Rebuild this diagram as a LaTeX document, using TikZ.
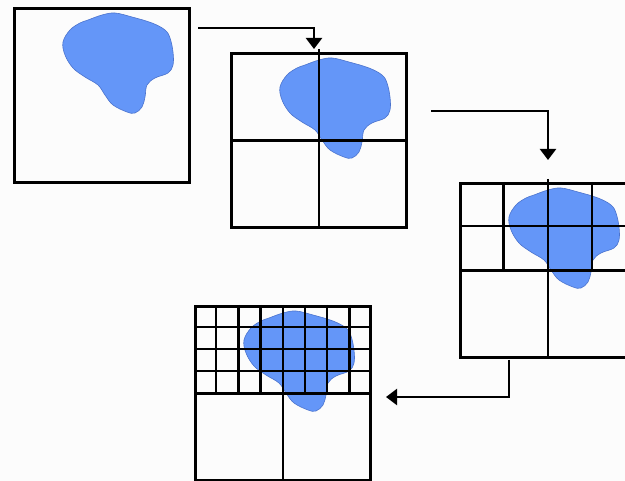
\documentclass[tikz,border=0pt]{standalone}
\usetikzlibrary{arrows.meta,calc}
\definecolor{blobc}{RGB}{100,150,248}
\definecolor{blobe}{RGB}{75,115,205}
\newcommand\drawblob[1]{\draw[blobstyle,shift={#1}] plot[smooth cycle,tension=0.6] coordinates{
(75,13) (89,8) (102,6) (119,10) (139,16) (152,23) (157,31) (160,45) (160,58) (155,66)
(142,71) (134,78) (132,90) (129,100) (122,106) (114,105) (100,98) (92,88) (85,78)
(72,70) (60,61) (52,48) (50,35) (57,23) (67,16)};}
\begin{document}
\begin{tikzpicture}[x=1pt,y=-1pt,
  box/.style={draw,line width=2.7pt,minimum width=175pt,minimum height=174pt,inner sep=0pt,anchor=north west},
  gridline/.style={line width=2.4pt},
  flow/.style={line width=2.2pt,-{Triangle[width=16pt,length=11pt]}},
  blobstyle/.style={fill=blobc,draw=blobe,line width=0.6pt}]
\useasboundingbox (0,0) rectangle (625,481);
\clip (0,0) rectangle (625,481);
\fill[white!99!black] (0,0) rectangle (625,481);
% blobs
\drawblob{(13,7)}
\drawblob{(230,52)}
\drawblob{(459,182)}
\drawblob{(194,305)}
% boxes
\node[box] (b1) at (13,7) {};
\node[box] (b2) at (230,52) {};
\node[box] (b3) at (459,182) {};
\node[box] (b4) at (194,305) {};
% grid box 2
\draw[gridline] ($(b2.north)+(0,-3)$) -- (b2.south);
\draw[gridline] (b2.west) -- (b2.east);
% grid box 3
\draw[gridline] ($(b3.north)+(0,-3)$) -- (b3.south);
\draw[gridline] (b3.west) -- (b3.east);
\draw[gridline] ($(b3.north west)!0.25!(b3.south west)$) -- ($(b3.north east)!0.25!(b3.south east)$);
\draw[gridline] ($(b3.north west)!0.25!(b3.north east)$) -- ($(b3.west)!0.25!(b3.east)$);
\draw[gridline] ($(b3.north west)!0.75!(b3.north east)$) -- ($(b3.west)!0.75!(b3.east)$);
% grid box 4
\draw[gridline] (b4.north) -- (b4.south);
\draw[gridline] (b4.west) -- (b4.east);
\foreach \i in {1,2,3,5,6,7}
  \draw[gridline] ($(b4.north west)!\i/8!(b4.north east)$) -- ($(b4.west)!\i/8!(b4.east)$);
\foreach \j in {1,2,3}
  \draw[gridline] ($(b4.north west)!\j/8!(b4.south west)$) -- ($(b4.north east)!\j/8!(b4.south east)$);
% arrows
\coordinate (a1s) at (198,28);
\coordinate (a1e) at (314,49);
\draw[flow] (a1s) -| (a1e);
\coordinate (a2s) at (431,111);
\coordinate (a2e) at (548,160);
\draw[flow] (a2s) -| (a2e);
\coordinate (a3s) at (509,360);
\coordinate (a3e) at (386,397);
\draw[flow] (a3s) |- (a3e);
\end{tikzpicture}
\end{document}
